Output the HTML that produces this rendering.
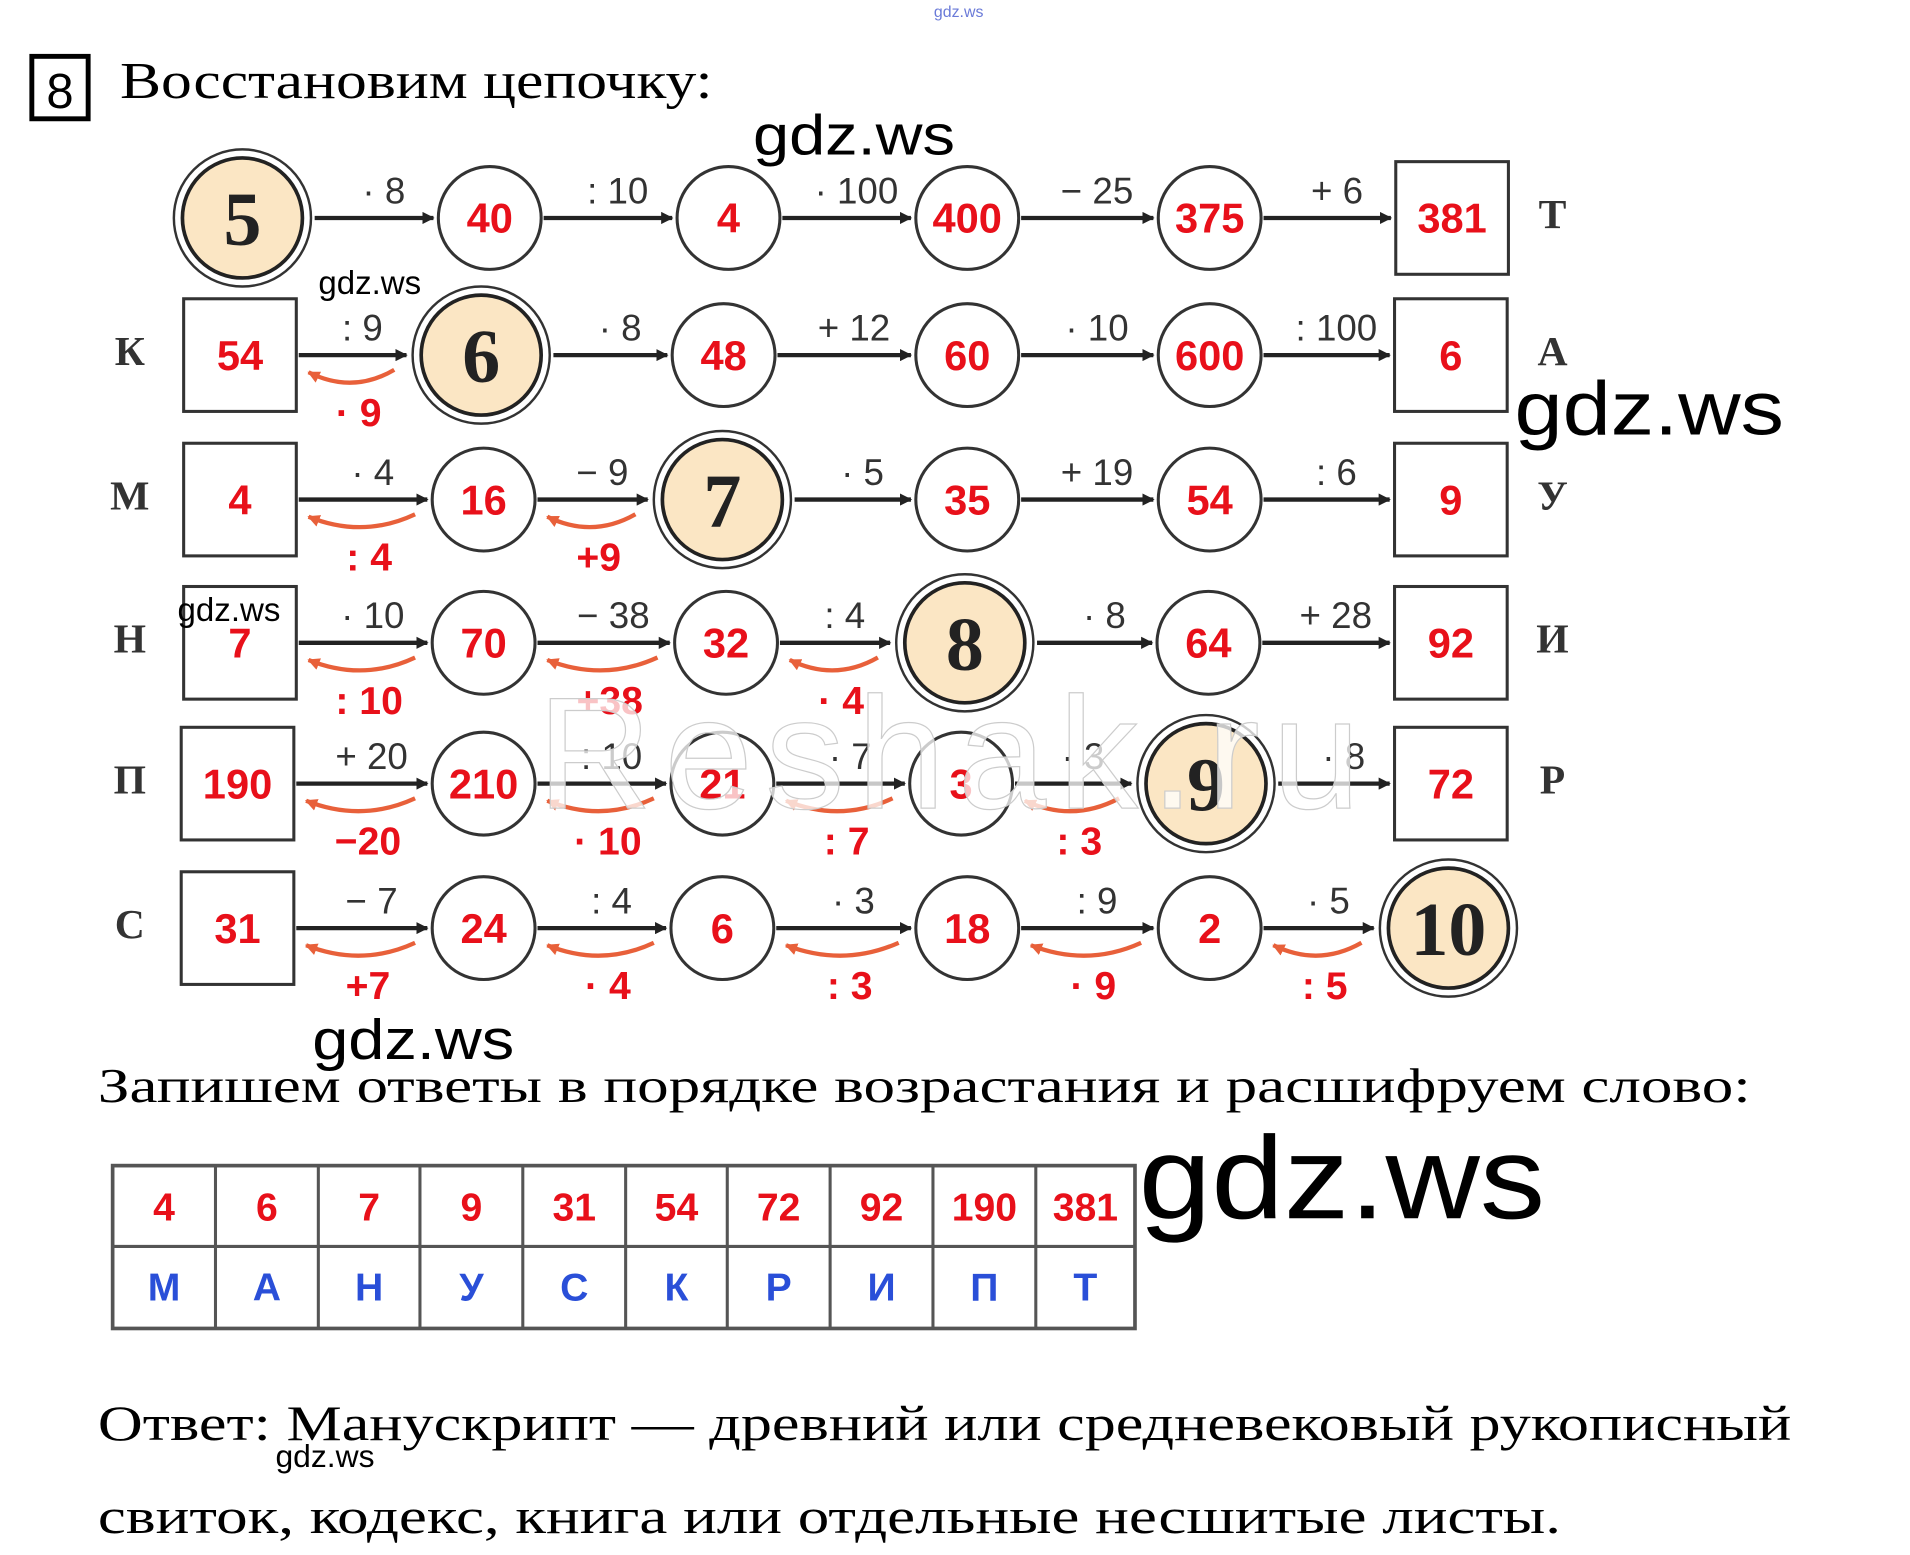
<!DOCTYPE html>
<html><head><meta charset="utf-8"><style>
html,body{margin:0;padding:0;background:#fff;width:1910px;height:1555px;overflow:hidden}
svg{display:block}
</style></head><body>
<svg id="s" width="1910" height="1555" viewBox="0 0 1560 1270" xmlns="http://www.w3.org/2000/svg">
<defs>
<marker id="ah" markerWidth="10" markerHeight="10" refX="9" refY="5" orient="auto" markerUnits="userSpaceOnUse"><path d="M0,0 L10,5 L0,10 z" fill="#222"/></marker>
<marker id="rh" markerWidth="10" markerHeight="10" refX="9" refY="5" orient="auto" markerUnits="userSpaceOnUse"><path d="M0,0 L10,5 L0,10 z" fill="#e8603a"/></marker>
</defs>
<text x="783" y="14" font-family="Liberation Sans, sans-serif" font-size="13" fill="#6a7ad8" text-anchor="middle">gdz.ws</text>
<rect x="26" y="46" width="46" height="51" fill="none" stroke="#000" stroke-width="4"/>
<text x="49" y="88" font-family="Liberation Sans, sans-serif" font-size="40" text-anchor="middle">8</text>
<text x="98" y="80" font-family="Liberation Serif, serif" font-size="42" textLength="484" lengthAdjust="spacingAndGlyphs">Восстановим цепочку:</text>
<text x="615" y="126" font-family="Liberation Sans, sans-serif" font-size="46" textLength="165" lengthAdjust="spacingAndGlyphs">gdz.ws</text>
<g id="g"></g>
<text x="260" y="240" font-family="Liberation Sans, sans-serif" font-size="27">gdz.ws</text>
<text x="1237" y="355" font-family="Liberation Sans, sans-serif" font-size="62" textLength="220" lengthAdjust="spacingAndGlyphs">gdz.ws</text>
<text x="145" y="507" font-family="Liberation Sans, sans-serif" font-size="27">gdz.ws</text>
<text x="255" y="865" font-family="Liberation Sans, sans-serif" font-size="46" textLength="165" lengthAdjust="spacingAndGlyphs">gdz.ws</text>
<text x="80" y="900" font-family="Liberation Serif, serif" font-size="40" textLength="1350" lengthAdjust="spacingAndGlyphs">Запишем ответы в порядке возрастания и расшифруем слово:</text>
<text x="930" y="995" font-family="Liberation Sans, sans-serif" font-size="96" textLength="332" lengthAdjust="spacingAndGlyphs">gdz.ws</text>
<g id="t"></g>
<text x="80" y="1176" font-family="Liberation Serif, serif" font-size="41" textLength="1383" lengthAdjust="spacingAndGlyphs">Ответ: Манускрипт — древний или средневековый рукописный</text>
<text x="225" y="1198" font-family="Liberation Sans, sans-serif" font-size="26">gdz.ws</text>
<text x="80" y="1252" font-family="Liberation Serif, serif" font-size="41" textLength="1195" lengthAdjust="spacingAndGlyphs">свиток, кодекс, книга или отдельные несшитые листы.</text>
</svg>
<script>
var rows=[
[178,[['C','5',198,1],['c','40',400],['c','4',595],['c','400',790],['c','375',988],['s','381',1186]],[['· 8'],[': 10'],['· 100'],['− 25'],['+ 6']],'Т',''],
[290,[['s','54',196],['C','6',393,1],['c','48',591],['c','60',790],['c','600',988],['s','6',1185]],[[': 9','· 9'],['· 8'],['+ 12'],['· 10'],[': 100']],'А','К'],
[408,[['s','4',196],['c','16',395],['C','7',590,1],['c','35',790],['c','54',988],['s','9',1185]],[['· 4',': 4'],['− 9','+9'],['· 5'],['+ 19'],[': 6']],'У','М'],
[525,[['s','7',196],['c','70',395],['c','32',593],['C','8',788,1],['c','64',987],['s','92',1185]],[['· 10',': 10'],['− 38','+38'],[': 4','· 4'],['· 8'],['+ 28']],'И','Н'],
[640,[['s','190',194],['c','210',395],['c','21',590],['c','3',785],['C','9',985,1],['s','72',1185]],[['+ 20','−20'],[': 10','· 10'],['· 7',': 7'],['· 3',': 3'],['· 8']],'Р','П'],
[758,[['s','31',194],['c','24',395],['c','6',590],['c','18',790],['c','2',988],['C','10',1183,1]],[['− 7','+7'],[': 4','· 4'],['· 3',': 3'],[': 9','· 9'],['· 5',': 5']],'','С']
];
var h='';
function half(n){return n[0]=='C'?57:(n[0]=='s'?46:42);}
rows.forEach(function(r){
 var y=r[0],ns=r[1];
 ns.forEach(function(n){
  var x=n[2];
  if(n[0]=='s'){h+='<rect x="'+(x-46)+'" y="'+(y-46)+'" width="92" height="92" fill="#fff" stroke="#333" stroke-width="2.5"/>';
   h+='<text x="'+x+'" y="'+(y+12)+'" font-family="Liberation Sans, sans-serif" font-weight="bold" font-size="34" fill="#e8101a" text-anchor="middle">'+n[1]+'</text>';}
  else if(n[0]=='c'){h+='<circle cx="'+x+'" cy="'+y+'" r="42" fill="#fff" stroke="#333" stroke-width="2.5"/>';
   h+='<text x="'+x+'" y="'+(y+12)+'" font-family="Liberation Sans, sans-serif" font-weight="bold" font-size="34" fill="#e8101a" text-anchor="middle">'+n[1]+'</text>';}
  else {h+='<circle cx="'+x+'" cy="'+y+'" r="56" fill="#fff" stroke="#333" stroke-width="2"/><circle cx="'+x+'" cy="'+y+'" r="49" fill="#fbe6c4" stroke="#222" stroke-width="3"/>';
   h+='<text x="'+x+'" y="'+(y+22)+'" font-family="Liberation Serif, serif" font-weight="bold" font-size="62" fill="#222" text-anchor="middle">'+n[1]+'</text>';}
 });
 r[2].forEach(function(op,i){
  var x1=ns[i][2]+half(ns[i])+2,x2=ns[i+1][2]-half(ns[i+1])-4;
  h+='<line x1="'+x1+'" y1="'+y+'" x2="'+x2+'" y2="'+y+'" stroke="#222" stroke-width="3.5" marker-end="url(#ah)"/>';
  h+='<text x="'+((x1+x2)/2+8)+'" y="'+(y-12)+'" font-family="Liberation Sans, sans-serif" font-size="30" fill="#333" text-anchor="middle">'+op[0]+'</text>';
  if(op[1]){
   h+='<path d="M'+(x2-10)+','+(y+12)+' Q'+((x1+x2)/2)+','+(y+32)+' '+(x1+8)+','+(y+14)+'" fill="none" stroke="#e8603a" stroke-width="3.5" marker-end="url(#rh)"/>';
   h+='<text x="'+((x1+x2)/2+5)+'" y="'+(y+58)+'" font-family="Liberation Sans, sans-serif" font-weight="bold" font-size="32" fill="#e8101a" text-anchor="middle">'+op[1]+'</text>';
  }
 });
 if(r[3])h+='<text x="1268" y="'+(y+8)+'" font-family="Liberation Serif, serif" font-weight="bold" font-size="34" fill="#333" text-anchor="middle">'+r[3]+'</text>';
 if(r[4])h+='<text x="106" y="'+(y+8)+'" font-family="Liberation Serif, serif" font-weight="bold" font-size="34" fill="#333" text-anchor="middle">'+r[4]+'</text>';
});
h+='<text x="780" y="660" font-family="Liberation Sans, sans-serif" font-size="130" fill="#fff" fill-opacity="0.75" stroke="#ccc" stroke-width="1" text-anchor="middle" letter-spacing="10">Reshak.ru</text>';
document.getElementById('g').innerHTML=h;
var xs=[92,176,260,343,427,511,594,678,762,846,927],nums=['4','6','7','9','31','54','72','92','190','381'],let=['М','А','Н','У','С','К','Р','И','П','Т'],t='';
t+='<rect x="92" y="952" width="835" height="133" fill="none" stroke="#555" stroke-width="3"/><line x1="92" y1="1018" x2="927" y2="1018" stroke="#555" stroke-width="2.5"/>';
for(var i=0;i<10;i++){
 if(i>0)t+='<line x1="'+xs[i]+'" y1="952" x2="'+xs[i]+'" y2="1085" stroke="#555" stroke-width="2.5"/>';
 var cx=(xs[i]+xs[i+1])/2;
 t+='<text x="'+cx+'" y="997" font-family="Liberation Sans, sans-serif" font-weight="bold" font-size="32" fill="#e8101a" text-anchor="middle">'+nums[i]+'</text>';
 t+='<text x="'+cx+'" y="1062" font-family="Liberation Sans, sans-serif" font-weight="bold" font-size="32" fill="#2a4fd8" text-anchor="middle">'+let[i]+'</text>';
}
document.getElementById('t').innerHTML=t;
</script>
</body></html>
